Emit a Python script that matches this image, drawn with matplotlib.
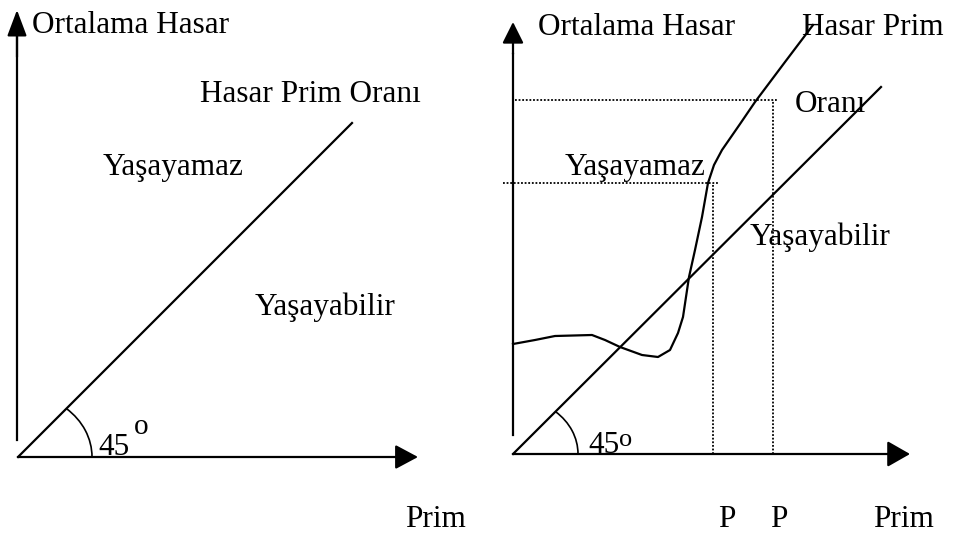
import numpy as np
import matplotlib
matplotlib.use("Agg")
import matplotlib.pyplot as plt
from matplotlib.patches import Arc

# Figure is drawn in pixel units (y up), each panel relative to its own origin.
W, H = 954, 536

# --- data (units relative to each panel origin, y up) ---
ratio_left_x = [0, 334]
ratio_left_y = [0, 334]

ratio_right_x = [0, 368]
ratio_right_y = [0, 367]

# "Hasar Prim" curve
curve_x = [0, 22, 42, 79, 92, 107, 129, 145, 157, 165, 170, 176, 182, 189, 195, 201, 209, 227, 242, 272, 300]
curve_y = [110, 114, 118, 119, 114, 107, 99, 97, 104, 121, 137, 177, 204, 237, 271, 289, 304, 330, 352, 392, 429]

# break-even points (P, Ortalama Hasar)
p_x = [200, 260]
p_y = [271, 354]

labels_left = ["Ortalama Hasar", "Hasar Prim Oranı", "Yaşayamaz", "Yaşayabilir", "Prim"]
labels_right = ["Ortalama Hasar", "Hasar Prim", "Oranı", "Yaşayamaz", "Yaşayabilir", "P", "P", "Prim"]

# --- layout ---
LEFT_O = (18, H - 457)
RIGHT_O = (513, H - 454)
FONT = "Liberation Serif"
FS = 22.5
LW = 1.6

fig = plt.figure(figsize=(W / 100, H / 100), dpi=100)
ax = fig.add_axes([0, 0, 1, 1])
ax.set_xlim(0, W)
ax.set_ylim(0, H)
ax.axis("off")


def shift(origin, xs, ys):
    return origin[0] + np.asarray(xs, float), origin[1] + np.asarray(ys, float)


def arrow(x0, y0, x1, y1, hl, hw):
    ax.annotate("", xy=(x1, y1), xytext=(x0, y0),
                arrowprops=dict(arrowstyle=f"-|>,head_length={hl},head_width={hw}",
                                lw=LW, color="black", shrinkA=0, shrinkB=0,
                                mutation_scale=10))


def label(x, y_top_px, s, fs=FS, **kw):
    ax.text(x, H - y_top_px, s, fontsize=fs, family=FONT, va="baseline", ha="left", **kw)


# left panel
ox, oy = LEFT_O
ax.plot([ox - 1, ox - 1], [oy + 17, oy + 420], color="black", lw=LW)
arrow(ox - 1, oy + 400, ox - 1, oy + 447, 1.6, 0.6)
arrow(ox, oy, ox + 400, oy, 1.4, 0.75)
x, y = shift(LEFT_O, ratio_left_x, ratio_left_y)
ax.plot(x, y, color="black", lw=LW)
ax.add_patch(Arc((ox, oy), 2 * 74, 2 * 64, theta1=0, theta2=45, color="black", lw=1.2))

label(32, 33, labels_left[0])
label(200, 102, labels_left[1])
label(103, 175, labels_left[2])
label(255, 315, labels_left[3])
label(405, 527, labels_left[4])
label(98, 455, "45")
label(134, 434, "o", fs=21)

# right panel
ox, oy = RIGHT_O
ax.plot([ox, ox], [oy + 19, oy + 400], color="black", lw=LW)
arrow(ox, oy + 400, ox, oy + 432, 1.3, 0.65)
arrow(ox, oy, ox + 397, oy, 1.4, 0.8)
x, y = shift(RIGHT_O, ratio_right_x, ratio_right_y)
ax.plot(x, y, color="black", lw=LW)
x, y = shift(RIGHT_O, curve_x, curve_y)
ax.plot(x, y, color="black", lw=LW, solid_joinstyle="round")
ax.add_patch(Arc((ox, oy), 2 * 65, 2 * 56, theta1=0, theta2=45, color="black", lw=1.2))

dot = dict(color="black", lw=1.3, linestyle=(0, (1, 1)))
for i, (px, py) in enumerate(zip(p_x, p_y)):
    left_start = -10 if i == 0 else 2
    ax.plot([ox + left_start, ox + px + 5], [oy + py, oy + py], **dot)
    ax.plot([ox + px, ox + px], [oy, oy + py], **dot)

label(538, 35, labels_right[0])
label(802, 35, labels_right[1])
label(795, 112, labels_right[2])
label(565, 175, labels_right[3])
label(750, 245, labels_right[4])
label(718, 527, labels_right[5])
label(770, 527, labels_right[6])
label(873, 527, labels_right[7])
label(588, 453, "45")
label(619, 446, "o", fs=19)

fig.savefig("out.png", dpi=100, facecolor="white")
